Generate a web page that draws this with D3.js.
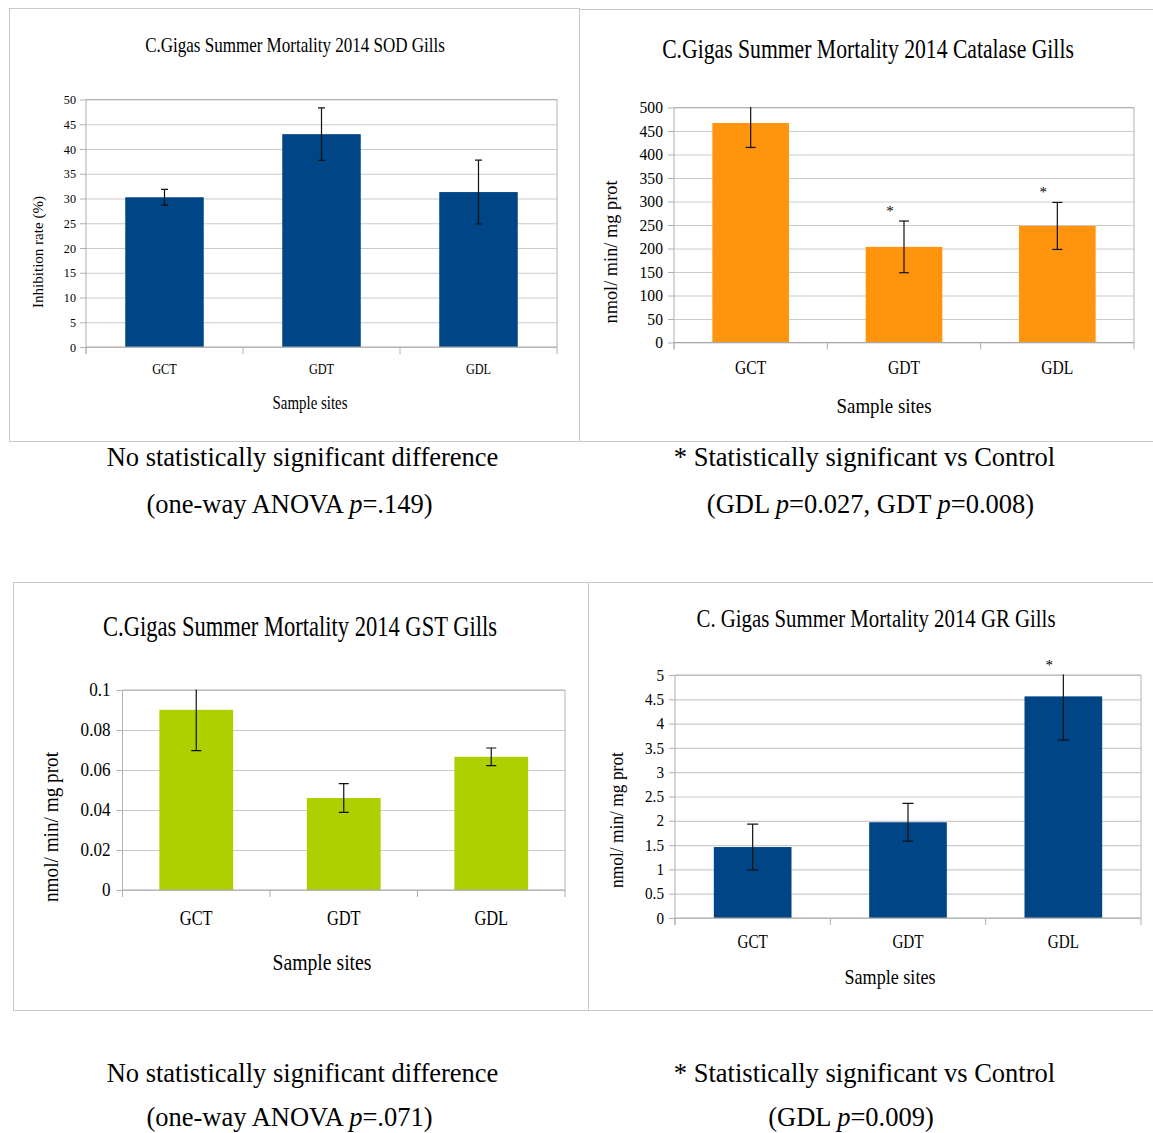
<!DOCTYPE html>
<html>
<head>
<meta charset="utf-8">
<script src="https://cdn.jsdelivr.net/npm/d3@7"></script>
<style>
  html, body { margin: 0; padding: 0; background: #fff; }
  svg { display: block; }
  text { font-family: "Liberation Serif", "Times New Roman", serif; fill: #000; }
</style>
</head>
<body>
<svg id="fig" width="1153" height="1133"></svg>
<script>
// ---- data -------------------------------------------------------------
const categories = ["GCT", "GDT", "GDL"];

const sodValues = [30.25, 43.0, 31.3];
const sodErrors = [1.6, 5.3, 6.45];
const sodTicks = [0, 5, 10, 15, 20, 25, 30, 35, 40, 45, 50];

const catalaseValues = [467, 203.5, 248];
const catalaseErrors = [52, 55, 50];
const catalaseSignificant = [false, true, true];
const catalaseTicks = [0, 50, 100, 150, 200, 250, 300, 350, 400, 450, 500];

const gstValues = [0.0901, 0.046, 0.0666];
const gstErrors = [0.0204, 0.0072, 0.0044];
const gstTicks = [0, 0.02, 0.04, 0.06, 0.08, 0.1];
const gstTickLabels = ["0", "0.02", "0.04", "0.06", "0.08", "0.1"];

const grValues = [1.46, 1.97, 4.56];
const grErrors = [0.47, 0.39, 0.9];
const grSignificant = [false, false, true];
const grTicks = [0, 0.5, 1, 1.5, 2, 2.5, 3, 3.5, 4, 4.5, 5];
const grTickLabels = ["0", "0.5", "1", "1.5", "2", "2.5", "3", "3.5", "4", "4.5", "5"];

const titles = [
  "C.Gigas Summer Mortality 2014 SOD Gills",
  "C.Gigas Summer Mortality 2014 Catalase Gills",
  "C.Gigas Summer Mortality 2014 GST Gills",
  "C. Gigas Summer Mortality 2014 GR Gills"
];
const xAxisTitle = "Sample sites";
const yAxisTitles = ["Inhibition rate (%)", "nmol/ min/ mg prot", "nmol/ min/ mg prot", "nmol/ min/ mg prot"];

// ---- drawing ----------------------------------------------------------
const svg = d3.select("#fig");

// Text helper: places a string at (x, y) and squeezes it horizontally,
// either by a factor k or to a fixed width w.
function label(g, str, x, y, o) {
  const t = g.append("text")
    .attr("font-size", o.size)
    .attr("text-anchor", o.anchor || "middle")
    .text(str);
  const len = t.node().getComputedTextLength();
  const sx = o.w ? o.w / len : (o.k || 1);
  t.attr("transform", `translate(${x},${y}) rotate(${o.rotate || 0}) scale(${sx},1)`);
  return t;
}

// Panel frames
const frames = [
  [9.5, 8.5, 579.5, 441.5],
  [579.5, 9.5, 1170, 441.5],
  [13.5, 582.5, 588.5, 1010.5],
  [588.5, 582.5, 1170, 1010.5]
];
frames.forEach(([x0, y0, x1, y1]) => {
  svg.append("rect")
    .attr("x", x0).attr("y", y0)
    .attr("width", x1 - x0).attr("height", y1 - y0)
    .attr("fill", "none").attr("stroke", "#c9c9c9").attr("stroke-width", 1);
});

const panels = [
  {
    id: "sod", values: sodValues, errors: sodErrors, sig: null,
    ticks: sodTicks, tickLabels: sodTicks.map(String), max: 50, color: "#004586",
    left: 86, right: 557, top: 99.5, bottom: 347,
    tickFs: 13.5, tickK: 0.9, tickGap: 10, catFs: 15, catY: 374, cap: 3.5,
    title: { text: titles[0], x: 295, y: 52, size: 22, w: 300 },
    xt: { x: 310, y: 409, size: 19, w: 75 },
    yt: { text: yAxisTitles[0], x: 43, y: 252, size: 14, w: 112 }
  },
  {
    id: "cat", values: catalaseValues, errors: catalaseErrors, sig: catalaseSignificant,
    ticks: catalaseTicks, tickLabels: catalaseTicks.map(String), max: 500, color: "#ff950e",
    left: 674, right: 1134, top: 107.5, bottom: 342.5,
    tickFs: 17, tickK: 0.92, tickGap: 11, catFs: 19, catY: 374, cap: 5,
    title: { text: titles[1], x: 868, y: 58, size: 27, w: 412 },
    xt: { x: 884, y: 413, size: 22, w: 95 },
    yt: { text: yAxisTitles[1], x: 617, y: 252, size: 19, w: 143 }
  },
  {
    id: "gst", values: gstValues, errors: gstErrors, sig: null,
    ticks: gstTicks, tickLabels: gstTickLabels, max: 0.1, color: "#aecf00",
    left: 122.5, right: 565, top: 690, bottom: 890,
    tickFs: 19, tickK: 0.9, tickGap: 12, catFs: 20, catY: 925, cap: 5,
    title: { text: titles[2], x: 300, y: 636, size: 29, w: 394 },
    xt: { x: 322, y: 970, size: 24, w: 99 },
    yt: { text: yAxisTitles[2], x: 58, y: 827, size: 20, w: 150 }
  },
  {
    id: "gr", values: grValues, errors: grErrors, sig: grSignificant,
    ticks: grTicks, tickLabels: grTickLabels, max: 5, color: "#004586",
    left: 675, right: 1141, top: 675, bottom: 918,
    tickFs: 16.5, tickK: 0.92, tickGap: 11, catFs: 18.5, catY: 948, cap: 5.5,
    title: { text: titles[3], x: 876, y: 627, size: 25, w: 359 },
    xt: { x: 890, y: 984, size: 21, w: 91 },
    yt: { text: yAxisTitles[3], x: 623, y: 820, size: 18, w: 136 }
  }
];

panels.forEach(p => {
  const g = svg.append("g").attr("class", "panel-" + p.id);
  const W = p.right - p.left;

  const x = d3.scaleBand().domain(categories)
    .range([p.left, p.right]).paddingInner(0.5).paddingOuter(0.25);
  const y = d3.scaleLinear().domain([0, p.max]).range([p.bottom, p.top]);

  // horizontal grid lines
  const grid = g.append("g").attr("transform", `translate(${p.left},0)`)
    .call(d3.axisLeft(y).tickValues(p.ticks).tickSizeInner(-W).tickSizeOuter(0).tickFormat(""));
  grid.select(".domain").remove();
  grid.selectAll(".tick line").attr("stroke", "#cbcbcb").attr("stroke-width", 1.2);

  // short outward tick marks on the value axis
  const yTicks = g.append("g").attr("transform", `translate(${p.left},0)`)
    .call(d3.axisLeft(y).tickValues(p.ticks).tickSize(6).tickSizeOuter(0).tickFormat(""));
  yTicks.select(".domain").remove();
  yTicks.selectAll(".tick line").attr("stroke", "#b0b0b0");

  // plot frame (top and right edges)
  g.append("path")
    .attr("d", `M${p.left},${p.top}H${p.right}V${p.bottom}`)
    .attr("fill", "none").attr("stroke", "#b3b3b3").attr("stroke-width", 1);

  // category boundaries on the x axis
  const gap = (x.step() - x.bandwidth()) / 2;
  const bounds = categories.map(c => x(c) - gap).concat([p.right]);
  const xTickLen = 7;
  g.selectAll(".xb").data(bounds).join("line")
    .attr("x1", d => d).attr("x2", d => d)
    .attr("y1", p.bottom).attr("y2", p.bottom + xTickLen)
    .attr("stroke", "#b0b0b0");
  // value axis line
  g.append("line")
    .attr("x1", p.left).attr("x2", p.left)
    .attr("y1", p.top).attr("y2", p.bottom + xTickLen)
    .attr("stroke", "#b0b0b0");

  // bars
  const rows = categories.map((c, i) => ({ c, v: p.values[i], e: p.errors[i], s: p.sig ? p.sig[i] : false }));
  g.selectAll(".bar").data(rows).join("rect")
    .attr("x", d => x(d.c)).attr("width", x.bandwidth())
    .attr("y", d => y(d.v)).attr("height", d => y(0) - y(d.v))
    .attr("fill", p.color);

  // x axis baseline
  g.append("line")
    .attr("x1", p.left).attr("x2", p.right)
    .attr("y1", p.bottom).attr("y2", p.bottom)
    .attr("stroke", "#a8a8a8").attr("stroke-width", 1.2);

  // error bars, clipped to the plot area
  const clipId = "clip-" + p.id;
  g.append("clipPath").attr("id", clipId).append("rect")
    .attr("x", p.left - 20).attr("y", p.top - 0.5)
    .attr("width", W + 40).attr("height", p.bottom - p.top + 1);
  const eg = g.append("g").attr("clip-path", `url(#${clipId})`);
  rows.forEach(d => {
    const cx = x(d.c) + x.bandwidth() / 2;
    const y1 = y(d.v + d.e), y0 = y(d.v - d.e);
    eg.append("line").attr("x1", cx).attr("x2", cx).attr("y1", y1).attr("y2", y0)
      .attr("stroke", "#111").attr("stroke-width", 1.2);
    [y1, y0].forEach(yy => eg.append("line")
      .attr("x1", cx - p.cap).attr("x2", cx + p.cap).attr("y1", yy).attr("y2", yy)
      .attr("stroke", "#111").attr("stroke-width", 1.2));
  });

  // significance markers
  rows.filter(d => d.s).forEach(d => {
    const cx = x(d.c) + x.bandwidth() / 2;
    const topY = Math.max(y(d.v + d.e), p.top);
    label(g, "*", cx - 14, topY - 13 + 7.8, { size: 15 });
  });

  // value tick labels
  p.ticks.forEach((t, i) => {
    label(g, p.tickLabels[i], p.left - p.tickGap, y(t) + p.tickFs * 0.34,
      { size: p.tickFs, k: p.tickK, anchor: "end" });
  });

  // category labels
  categories.forEach(c => {
    label(g, c, x(c) + x.bandwidth() / 2, p.catY, { size: p.catFs, k: 0.82 });
  });

  // titles
  label(g, p.title.text, p.title.x, p.title.y, { size: p.title.size, w: p.title.w });
  label(g, xAxisTitle, p.xt.x, p.xt.y, { size: p.xt.size, w: p.xt.w });
  label(g, p.yt.text, p.yt.x, p.yt.y, { size: p.yt.size, w: p.yt.w, rotate: -90 });
});

// ---- captions under each chart -----------------------------------------
function caption(parts, cx, y) {
  const t = svg.append("text").attr("font-size", 26.5).attr("text-anchor", "middle")
    .attr("x", cx).attr("y", y);
  parts.forEach(([s, it]) => {
    const ts = t.append("tspan").text(s);
    if (it) ts.attr("font-style", "italic");
  });
}
caption([["No statistically significant difference"]], 302.5, 466);
caption([["(one-way ANOVA "], ["p", true], ["=.149)"]], 289.5, 513);
caption([["* Statistically significant vs Control"]], 864.5, 466);
caption([["(GDL "], ["p", true], ["=0.027, GDT "], ["p", true], ["=0.008)"]], 870.5, 513);
caption([["No statistically significant difference"]], 302.5, 1082);
caption([["(one-way ANOVA "], ["p", true], ["=.071)"]], 289.5, 1126);
caption([["* Statistically significant vs Control"]], 864.5, 1082);
caption([["(GDL "], ["p", true], ["=0.009)"]], 851, 1126);
</script>
</body>
</html>
